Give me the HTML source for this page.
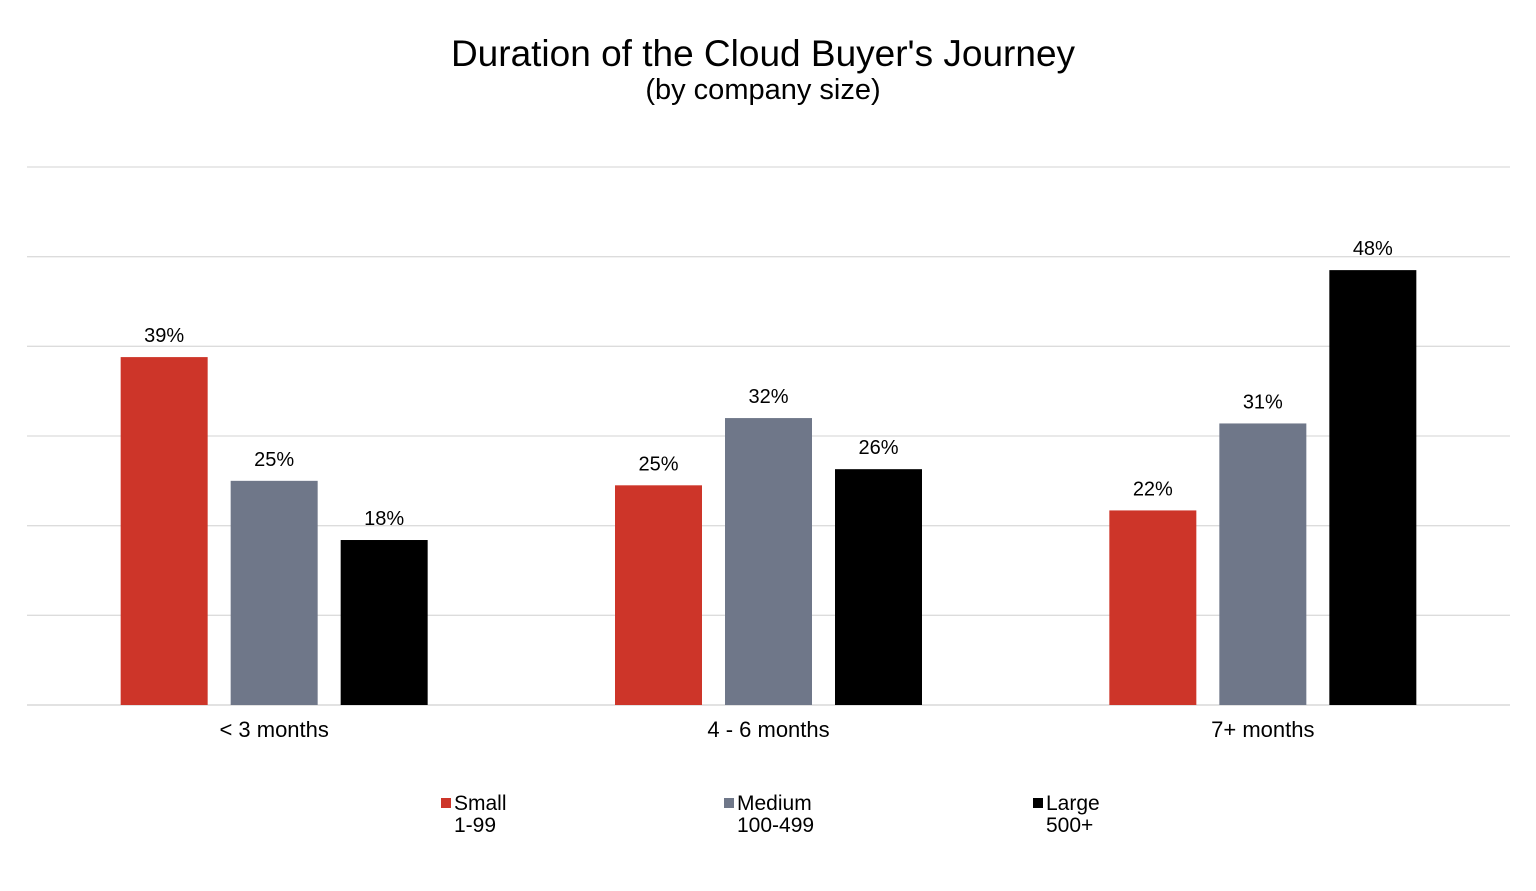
<!DOCTYPE html>
<html><head><meta charset="utf-8"><style>
html,body{margin:0;padding:0;background:#fff;}
svg{display:block;font-family:"Liberation Sans",Arial,sans-serif;}
</style></head><body>
<svg id="chart" width="1536" height="891" viewBox="0 0 1536 891">
<text x="763" y="66" text-anchor="middle" font-size="37" fill="#000">Duration of the Cloud Buyer's Journey</text>
<text x="763" y="99" text-anchor="middle" font-size="29" fill="#000">(by company size)</text>
<g id="grid"></g>
<g id="bars"></g>
<g id="xlabels"></g>
<g id="legend"></g>
</svg>
<script>
const categories = ["< 3 months", "4 - 6 months", "7+ months"];
const seriesNames = ["Small", "Medium", "Large"];
const seriesSub = ["1-99", "100-499", "500+"];
const small = [38.8, 24.5, 21.7];
const medium = [25.0, 32.0, 31.4];
const large = [18.4, 26.3, 48.5];
const labelsSmall = ["39%", "25%", "22%"];
const labelsMedium = ["25%", "32%", "31%"];
const labelsLarge = ["18%", "26%", "48%"];
const gridTicks = [0, 10, 20, 30, 40, 50, 60];

const colors = ["#cd3529", "#6f7789", "#000000"];
const NS = "http://www.w3.org/2000/svg";
const plotL = 27, plotR = 1510, baseY = 705, topY = 167, maxV = 60;
const y = v => baseY - (v / maxV) * (baseY - topY);
const catW = (plotR - plotL) / categories.length;
const xc = i => plotL + catW * (i + 0.5);
const barW = 87, step = 110;

function mk(tag, attrs, parent) {
  const e = document.createElementNS(NS, tag);
  for (const k in attrs) e.setAttribute(k, attrs[k]);
  parent.appendChild(e);
  return e;
}
const grid = document.getElementById("grid");
gridTicks.forEach(t => {
  const l = mk("line", {x1: plotL, x2: plotR, y1: y(t), y2: y(t), stroke: t === 0 ? "#d0d0d0" : "#dcdcdc", "stroke-width": 1.3}, grid);
  
  
});
const bars = document.getElementById("bars");
const series = [small, medium, large];
const labels = [labelsSmall, labelsMedium, labelsLarge];
series.forEach((s, si) => {
  s.forEach((v, ci) => {
    const cx = xc(ci) + (si - 1) * step;
    const r = mk("rect", {x: cx - barW / 2, y: y(v), width: barW, height: baseY - y(v), fill: colors[si]}, bars);
    
    
    const t = mk("text", {x: cx, y: y(v) - 15, "text-anchor": "middle", "font-size": 20, fill: "#000"}, bars);
    t.textContent = labels[si][ci];
    
    
  });
});
const xl = document.getElementById("xlabels");
categories.forEach((c, i) => {
  const t = mk("text", {x: xc(i), y: 737, "text-anchor": "middle", "font-size": 22, fill: "#000"}, xl);
  t.textContent = c;
  
  
});
const lg = document.getElementById("legend");
const legX = [441, 724, 1033];
seriesNames.forEach((n, i) => {
  const g = mk("g", {}, lg);
  
  
  mk("rect", {x: legX[i], y: 798, width: 10, height: 10, fill: colors[i]}, g);
  const t1 = mk("text", {x: legX[i] + 13, y: 810, "font-size": 21, fill: "#000"}, g);
  t1.textContent = n;
  const t2 = mk("text", {x: legX[i] + 13, y: 832, "font-size": 21, fill: "#000"}, g);
  t2.textContent = seriesSub[i];
});
</script>
</body></html>
